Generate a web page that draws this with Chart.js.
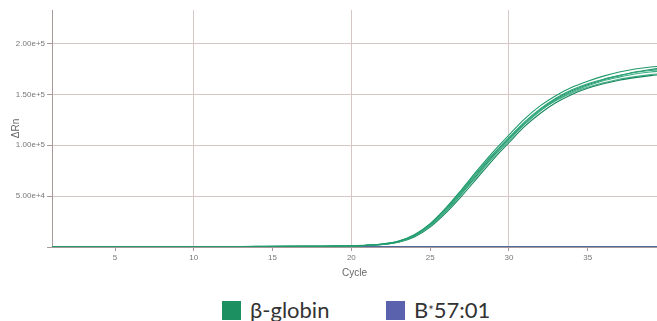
<!DOCTYPE html>
<html>
<head>
<meta charset="utf-8">
<script src="https://cdn.jsdelivr.net/npm/chart.js@4.4.1/dist/chart.umd.min.js"></script>
<style>
  body { margin: 0; background: #fff; width: 657px; height: 321px; overflow: hidden; }
  #wrap { position: relative; width: 657px; height: 290px; }
  .item { position: absolute; top: 297px; display: flex; align-items: center;
          font-family: Lato, "Open Sans", sans-serif; font-size: 22px; color: #333; line-height: 26px; }
  .box { width: 19px; height: 19px; margin-right: 9px; }
</style>
</head>
<body>
<div id="wrap"><canvas id="myChart"></canvas></div>
<div class="item" style="left:222px"><span class="box" style="background:#1c9060"></span>β-globin</div>
<div class="item" style="left:386px"><span class="box" style="background:#5a62ae"></span>B<sup style="font-size:13px;line-height:0">*</sup>57:01</div>
<script>
const cycles = [1,2,3,4,5,6,7,8,9,10,11,12,13,14,15,16,17,18,19,20,21,22,23,24,25,26,27,28,29,30,31,32,33,34,35,36,37,38,39,40];

// β-globin replicates (ΔRn)
const globin1 = [420,450,430,470,480,460,500,490,510,520,530,540,560,580,600,640,700,780,900,1200,1800,3000,5800,12000,23000,38500,56500,75500,93500,110000,126000,139000,149000,157000,163000,168000,172000,175000,177000,178000];
const globin2 = [380,400,420,410,440,450,430,470,480,500,490,520,530,550,570,610,660,740,860,1150,1700,2800,5400,11300,22000,37000,54500,73000,91000,107500,123000,136000,146500,154500,160500,165000,168500,171500,173500,175000];
const globin3 = [350,370,360,390,400,420,410,430,450,440,460,480,500,510,540,580,630,700,820,1080,1600,2600,5000,10500,20500,35000,52000,70000,88000,104500,120500,134000,144500,152500,158500,163500,167000,170000,172000,173500];
const globin4 = [320,340,350,330,360,380,370,390,400,410,430,420,450,470,490,530,580,650,760,1000,1500,2400,4600,9800,19500,33500,50000,68000,86000,102500,118500,131500,142000,150000,156000,160500,164000,166500,168500,170000];
const globin5 = [400,420,410,440,430,470,460,480,500,490,510,530,540,570,590,630,690,770,880,1180,1750,2900,5600,11800,22500,37500,55500,74000,91500,107000,122000,134500,144000,151500,157000,161500,165000,167500,169500,171000];
const globin6 = [360,380,390,370,410,400,430,420,440,460,450,470,490,520,550,590,640,720,840,1100,1650,2700,5200,10800,21000,35500,53000,71500,89500,106000,121500,135000,145500,153500,159500,164500,168500,172000,174500,176500];
// B*57:01 (no amplification)
const hla = [250,260,240,270,260,280,300,270,280,290,270,300,290,310,300,290,310,300,320,310,300,320,310,330,320,310,330,320,330,340,330,320,340,330,340,350,340,330,350,340];

const yTickValues = [0, 50000, 100000, 150000, 200000];
const xTickValues = [5, 10, 15, 20, 25, 30, 35];

const greens = ['#1f9a6a', '#2aa57a', '#3bae84', '#17875c', '#48b08a', '#229064'];
const globinSets = [globin1, globin2, globin3, globin4, globin5, globin6];

const datasets = globinSets.map((d, i) => ({
  label: 'β-globin',
  data: d,
  borderColor: greens[i],
  borderWidth: 1.1,
  pointRadius: 0,
  cubicInterpolationMode: 'monotone',
  fill: false
}));
datasets.push({
  label: 'B*57:01',
  data: hla,
  borderColor: '#4f6aa0',
  borderWidth: 1.2,
  pointRadius: 0,
  cubicInterpolationMode: 'monotone',
  fill: false
});

const axisFont = { family: '"Liberation Sans", Arial, sans-serif', size: 8 };
const titleFont = { family: '"Liberation Sans", Arial, sans-serif', size: 10 };

new Chart(document.getElementById('myChart'), {
  type: 'line',
  data: { labels: cycles, datasets: datasets },
  options: {
    responsive: true,
    maintainAspectRatio: false,
    animation: false,
    layout: { padding: { top: 10, right: 0, left: 0, bottom: 0 } },
    plugins: { legend: { display: false }, tooltip: { enabled: false } },
    scales: {
      x: {
        type: 'linear',
        min: 1,
        max: 39.4,
        afterBuildTicks: (scale) => { scale.ticks = xTickValues.map(v => ({ value: v })); },
        afterFit: (scale) => { scale.height = 43; },
        ticks: { color: '#777', font: axisFont, padding: 2, maxRotation: 0 },
        grid: {
          color: (c) => (c.tick && c.tick.value % 10 === 0) ? '#d6c6c6' : 'rgba(0,0,0,0)',
          tickColor: '#a89898',
          tickLength: 4
        },
        border: { color: '#a89898', width: 1 },
        title: { display: true, text: 'Cycle', color: '#666', font: titleFont, padding: { top: 0, bottom: 11 } }
      },
      y: {
        min: 0,
        max: 233000,
        afterBuildTicks: (scale) => { scale.ticks = yTickValues.map(v => ({ value: v })); },
        afterFit: (scale) => { scale.width = 52; },
        ticks: {
          color: '#777',
          font: axisFont,
          padding: 2,
          callback: (v) => v > 0 ? v.toExponential(2) : ''
        },
        grid: {
          color: (c) => (c.tick && c.tick.value > 0) ? '#d6c6c6' : 'rgba(0,0,0,0)',
          tickColor: '#a89898',
          tickLength: 5
        },
        border: { color: '#a89898', width: 1 },
        title: { display: true, text: 'ΔRn', color: '#666', font: titleFont, padding: { top: 10, bottom: 0 } }
      }
    }
  }
});
</script>
</body>
</html>
